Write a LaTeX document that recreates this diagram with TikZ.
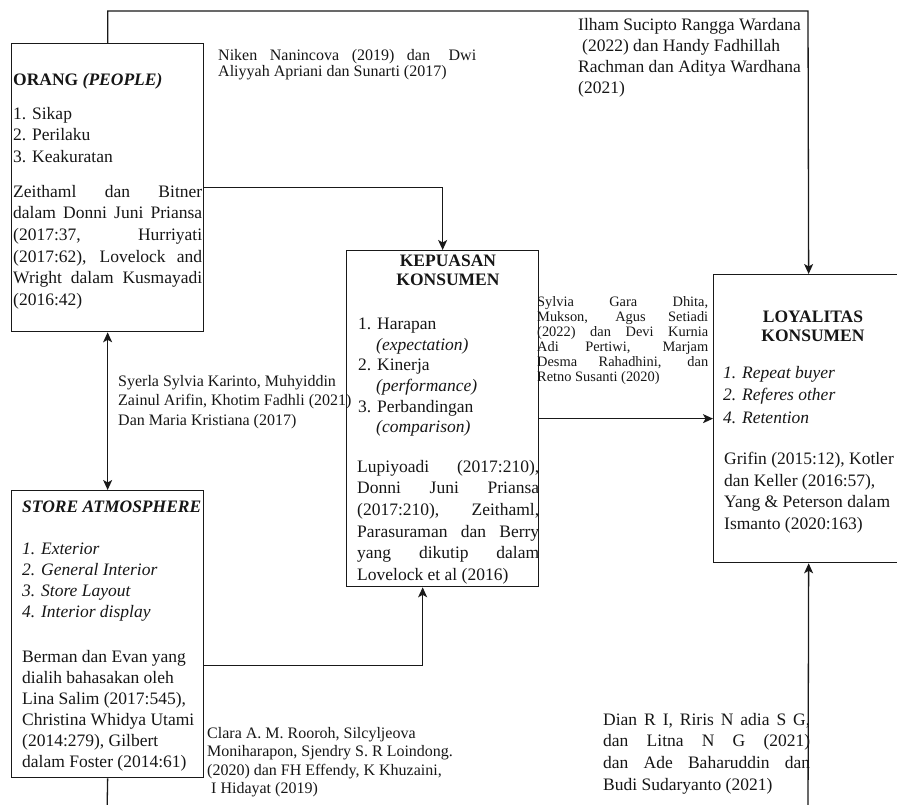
\documentclass[tikz,border=0pt]{standalone}
\usepackage{fontspec}
\setmainfont{Liberation Serif}
\usetikzlibrary{arrows.meta}
\definecolor{linec}{RGB}{25,25,25}
\definecolor{textc}{RGB}{22,22,22}
\newcommand\jst[2]{\makebox[#1][s]{#2}}
\begin{document}
\begin{tikzpicture}[x=1pt,y=-1pt,
  box/.style={draw=linec, line width=1.3pt, inner sep=0pt, anchor=north west},
  conn/.style={draw=linec, line width=1.3pt},
  arr/.style={conn, -{Stealth[length=10pt,width=9pt,inset=2.5pt]}},
  dbl/.style={conn, {Stealth[length=10pt,width=9pt,inset=2.5pt]}-{Stealth[length=10pt,width=9pt,inset=2.5pt]}},
  txt/.style={anchor=north west, inner sep=0pt, align=left, text=textc},
  big/.style={font=\fontsize{17.5}{21.6}\selectfont},
  tiny/.style={font=\fontsize{14.4}{15}\selectfont},
]
\useasboundingbox (0,0) rectangle (897,805);
\clip (0,0) rectangle (897,805);

% boxes
\node[box, minimum width=192pt, minimum height=288pt] (orang) at (11,43) {};
\node[box, minimum width=192pt, minimum height=336pt] (kepuasan) at (346,250) {};
\node[box, minimum width=190pt, minimum height=288pt] (loyal) at (713,274) {};
\node[box, minimum width=192pt, minimum height=287pt] (store) at (11,490) {};

% connectors
\coordinate (topR) at (808,11);
\coordinate (botL) at (107,815);
\coordinate (botR) at (808,815);
\draw[arr] (orang.north) |- (topR) -- (loyal.north);
\draw[arr] (orang.east) -| (kepuasan.north);
\draw[arr] (kepuasan.east) -- (loyal.west);
\draw[dbl] (orang.south) -- (store.north);
\draw[arr] ([yshift=-31.5pt]store.east) -| ([xshift=-20pt]kepuasan.south);
\draw[conn] (store.south) -- (botL);
\draw[arr] (botR) -- (loyal.south);

% ORANG
\node[txt,big] (orangT) at (13,73) {\textbf{ORANG \textit{(PEOPLE)}}};
\node[txt,big] (orangL) at (13,107) {1. Sikap\\2. Perilaku\\3. Keakuratan};
\node[txt,big] (orangC) at (13,185) {\jst{189pt}{Zeithaml dan Bitner}\\\jst{189pt}{dalam Donni Juni Priansa}\\\jst{189pt}{(2017:37, Hurriyati}\\\jst{189pt}{(2017:62), Lovelock and}\\\jst{189pt}{Wright dalam Kusmayadi}\\(2016:42)};

% KEPUASAN
\node[txt,anchor=north,align=center,font=\fontsize{17.5}{18.5}\selectfont\bfseries] (kepT) at (448,255) {KEPUASAN\\KONSUMEN};
\node[txt,font=\fontsize{17.5}{20.6}\selectfont] (kepL) at (358,318) {1. Harapan\\\hspace*{18pt}\textit{(expectation)}\\2. Kinerja\\\hspace*{18pt}\textit{(performance)}\\3. Perbandingan\\\hspace*{18pt}\textit{(comparison)}};
\node[txt,big] (kepC) at (357,460) {\jst{182pt}{Lupiyoadi (2017:210),}\\\jst{182pt}{Donni Juni Priansa}\\\jst{182pt}{(2017:210), Zeithaml,}\\\jst{182pt}{Parasuraman dan Berry}\\\jst{182pt}{yang dikutip dalam}\\Lovelock et al (2016)};

% LOYALITAS
\node[txt,anchor=north,align=center,font=\fontsize{17.5}{19}\selectfont\bfseries] (loyT) at (813,311) {LOYALITAS\\KONSUMEN};
\node[txt,font=\fontsize{17.5}{22.5}\selectfont\itshape] (loyL) at (723,366) {1. Repeat buyer\\2. Referes other\\4. Retention};
\node[txt,big] (loyC) at (724,452) {Grifin (2015:12), Kotler\\dan Keller (2016:57),\\Yang \& Peterson dalam\\Ismanto (2020:163)};

% STORE
\node[txt,big] (storeT) at (22,501) {\textbf{\textit{STORE ATMOSPHERE}}};
\node[txt,font=\fontsize{17.5}{21}\selectfont\itshape] (storeL) at (22,543) {1. Exterior\\2. General Interior\\3. Store Layout\\4. Interior display};
\node[txt,font=\fontsize{17.5}{21}\selectfont] (storeC) at (22,650) {Berman dan Evan yang\\dialih bahasakan oleh\\Lina Salim (2017:545),\\Christina Whidya Utami\\(2014:279), Gilbert\\dalam Foster (2014:61)};

% labels
\node[txt,font=\fontsize{16}{16}\selectfont] (niken) at (218,49) {\jst{258pt}{Niken Nanincova (2019) dan\hspace{6pt} Dwi}\\Aliyyah Apriani dan Sunarti (2017)};
\node[txt,font=\fontsize{17.5}{21}\selectfont] (ilham) at (578,18) {Ilham Sucipto Rangga Wardana\\\hspace*{4pt}(2022) dan Handy Fadhillah\\Rachman dan Aditya Wardhana\\(2021)};
\node[txt,font=\fontsize{16}{19.5}\selectfont] (syerla) at (118,375) {Syerla Sylvia Karinto, Muhyiddin\\Zainul Arifin, Khotim Fadhli (2021)\\Dan Maria Kristiana (2017)};
\node[txt,tiny] (sylvia) at (537,296) {\jst{171pt}{Sylvia Gara Dhita,}\\\jst{171pt}{Mukson, Agus Setiadi}\\\jst{171pt}{(2022) dan Devi Kurnia}\\\jst{171pt}{Adi Pertiwi, Marjam}\\\jst{171pt}{Desma Rahadhini, dan}\\Retno Susanti (2020)};
\node[txt,font=\fontsize{16}{18.5}\selectfont] (clara) at (207,727) {Clara A. M. Rooroh, Silcyljeova\\Moniharapon, Sjendry S. R Loindong.\\(2020) dan FH Effendy, K Khuzaini,\\\hspace*{4pt}I Hidayat (2019)};
\node[txt,big] (dian) at (603,713) {\jst{207pt}{Dian R I, Riris N adia S G,}\\\jst{207pt}{dan Litna N G (2021)}\\\jst{207pt}{dan Ade Baharuddin dan}\\Budi Sudaryanto (2021)};
\end{tikzpicture}
\end{document}
